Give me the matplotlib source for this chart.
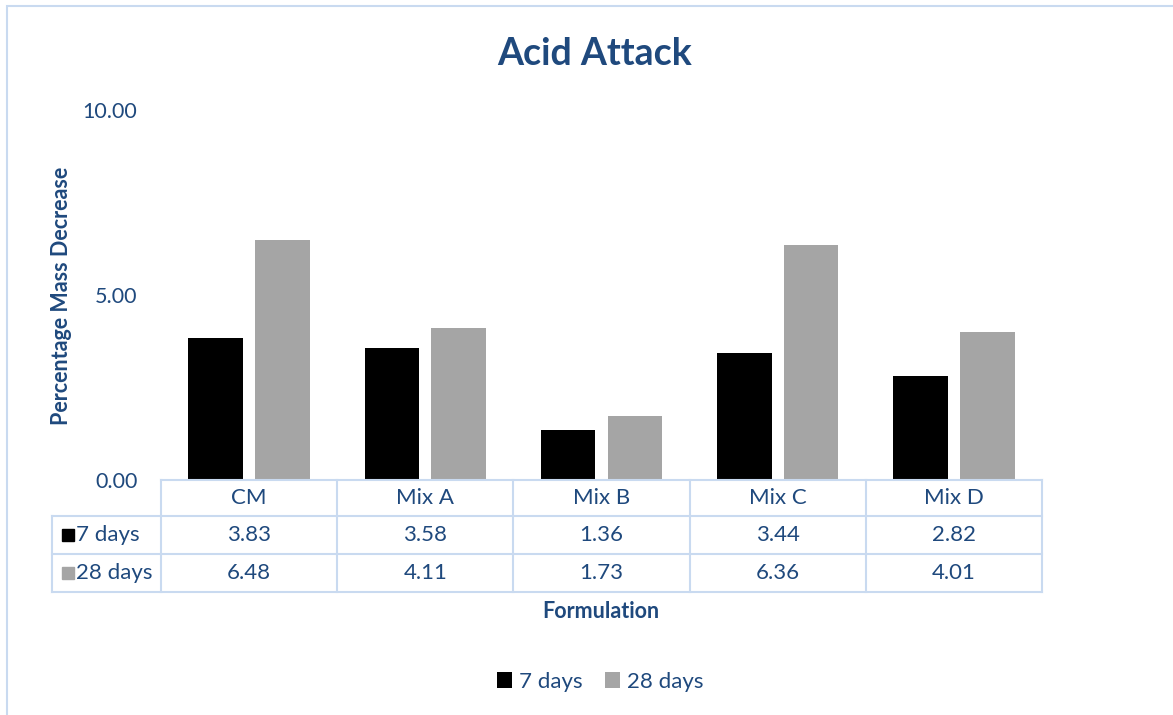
import matplotlib
matplotlib.use("Agg")
import matplotlib.pyplot as plt
from matplotlib.patches import Rectangle
import numpy as np

categories = ["CM", "Mix A", "Mix B", "Mix C", "Mix D"]
series_names = ["7 days", "28 days"]
values_7 = [3.83, 3.58, 1.36, 3.44, 2.82]
values_28 = [6.48, 4.11, 1.73, 6.36, 4.01]
yticks = [0, 5, 10]
title = "Acid Attack"
ylabel = "Percentage Mass Decrease"
xlabel = "Formulation"

colors = ["#000000", "#A5A5A5"]
txt = "#1F497D"
grid_c = "#C9DAF0"
font = "Lato"

W, H = 1173, 715
fig = plt.figure(figsize=(W / 100, H / 100), dpi=100)

def fx(px):
    return px / W

def fy(py):
    return 1 - py / H

# outer chart border
fig.patches.append(Rectangle((fx(7), -0.05), 1.2, fy(6) + 0.05, transform=fig.transFigure,
                             fill=False, edgecolor=grid_c, linewidth=1.5))

ax = fig.add_axes([fx(161), fy(480), fx(1042) - fx(161), fy(110) - fy(480)])
x = np.arange(len(categories))
bw = 0.31
off = 0.19
ax.bar(x - off, values_7, bw, color=colors[0], label=series_names[0])
ax.bar(x + off, values_28, bw, color=colors[1], label=series_names[1])
ax.set_xlim(-0.5, len(categories) - 0.5)
ax.set_ylim(0, 10)
ax.set_yticks(yticks)
ax.set_yticklabels([f"{v:.2f}" for v in yticks], color=txt, fontsize=15.5, family=font)
ax.tick_params(axis="y", length=0, pad=17)
ax.set_xticks([])
for s in ["top", "right", "left"]:
    ax.spines[s].set_visible(False)
ax.spines["bottom"].set_color(grid_c)
ax.spines["bottom"].set_linewidth(1.5)

# data table
tr = ax.get_xaxis_transform()
axh = 480 - 110
r1 = -36 / axh
r2 = -74 / axh
r3 = -112 / axh
xl = -0.5 - (161 - 52) / 176
n = len(categories)
lw = 1.5
fs = 16
for b in np.arange(n + 1) - 0.5:
    ax.plot([b, b], [0, r3], transform=tr, color=grid_c, lw=lw, clip_on=False)
ax.plot([xl, xl], [r1, r3], transform=tr, color=grid_c, lw=lw, clip_on=False)
for yy in [r1, r2, r3]:
    ax.plot([xl, n - 0.5], [yy, yy], transform=tr, color=grid_c, lw=lw, clip_on=False)
for i, c in enumerate(categories):
    ax.text(i, r1 / 2, c, transform=tr, ha="center", va="center", color=txt, fontsize=fs, family=font)
    ax.text(i, (r1 + r2) / 2, f"{values_7[i]:.2f}", transform=tr, ha="center", va="center",
            color=txt, fontsize=fs, family=font)
    ax.text(i, (r2 + r3) / 2, f"{values_28[i]:.2f}", transform=tr, ha="center", va="center",
            color=txt, fontsize=fs, family=font)
sq = 12 / 176
for j, (nm, yc) in enumerate(zip(series_names, [(r1 + r2) / 2, (r2 + r3) / 2])):
    ax.add_patch(Rectangle((xl + 10 / 176, yc - 6 / axh), sq, 12 / axh, transform=tr,
                           color=colors[j], clip_on=False))
    ax.text(xl + 24 / 176, yc, nm, transform=tr, ha="left", va="center", color=txt,
            fontsize=fs, family=font)

fig.text(fx(595), fy(54), title, ha="center", va="center", color=txt, fontsize=27,
         fontweight="bold", family=font)
fig.text(fx(62), fy(296), ylabel, ha="center", va="center", rotation=90, color=txt,
         fontsize=15.5, fontweight="bold", family=font)
fig.text(fx(601), fy(611), xlabel, ha="center", va="center", color=txt, fontsize=15.5,
         fontweight="bold", family=font)

leg = fig.legend(handles=ax.patches[:1] + ax.patches[len(categories):len(categories) + 1],
                 labels=series_names, loc="center", bbox_to_anchor=(fx(600), fy(682)),
                 ncol=2, frameon=False, prop={"family": font, "size": fs},
                 handlelength=0.7, handleheight=0.7, handletextpad=0.3, columnspacing=1.0)
for t in leg.get_texts():
    t.set_color(txt)

fig.savefig("out.png", dpi=100)
